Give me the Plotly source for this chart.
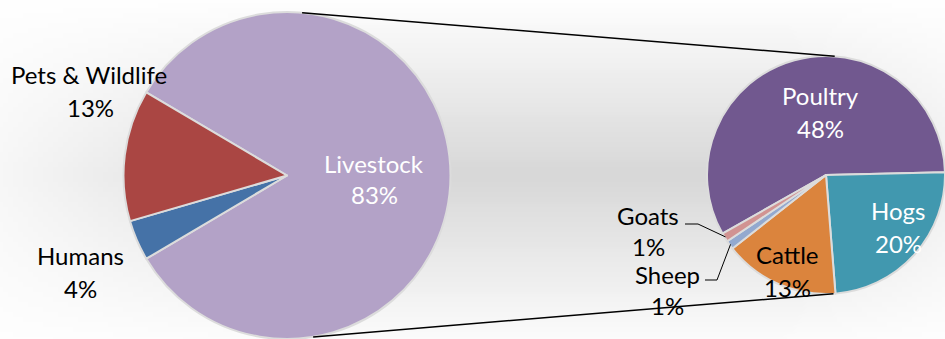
import base64
import struct
import zlib
import math
import numpy as np
import plotly.graph_objects as go

W, H = 945, 339

# ---------------- data ----------------
main_labels = ["Livestock", "Humans", "Pets & Wildlife"]
main_values = [83, 4, 13]
main_colors = ["#B3A2C7", "#4572A7", "#AA4643"]

sub_labels = ["Poultry", "Hogs", "Cattle", "Sheep", "Goats"]
sub_values = [48, 20, 13, 1, 1]
sub_colors = ["#71588F", "#4198AF", "#DB843D", "#93A9CF", "#D19392"]

# ---------------- styling / geometry (pixels) ----------------
FONT = "Lato"
FS = 24
L_CX, L_CY, L_R = 287.0, 175.5, 163.5
R_CX, R_CY, R_R = 826.0, 175.0, 119.0
L_ROT, R_ROT = -59.4, -119.5

label_pos = {
    "Livestock": ((374, 163.5), (374, 194.5), "white"),
    "Pets & Wildlife": ((89, 74.5), (90, 107.5), "black"),
    "Humans": ((80, 255.5), (80, 288.5), "black"),
    "Poultry": ((820, 95), (820, 129), "white"),
    "Hogs": ((898, 210.5), (898, 243.5), "white"),
    "Cattle": ((787, 255), (787, 287.5), "black"),
    "Goats": ((648, 215.5), (648, 246.5), "black"),
    "Sheep": ((667, 274), (667, 305), "black"),
}
leader_start = {"Goats": [(685, 224), (698, 224)], "Sheep": [(705, 280), (717, 280)]}


def px(x):
    return x / W


def py(y):
    return 1 - y / H


def png_data_uri(arr):
    h, w, _ = arr.shape
    raw = b"".join(b"\x00" + arr[i].astype(np.uint8).tobytes() for i in range(h))

    def chunk(tag, data):
        c = struct.pack(">I", len(data)) + tag + data
        return c + struct.pack(">I", zlib.crc32(tag + data) & 0xFFFFFFFF)

    png = b"\x89PNG\r\n\x1a\n"
    png += chunk(b"IHDR", struct.pack(">IIBBBBB", w, h, 8, 2, 0, 0, 0))
    png += chunk(b"IDAT", zlib.compress(raw, 9))
    png += chunk(b"IEND", b"")
    return "data:image/png;base64," + base64.b64encode(png).decode()


# background gradient (white edges, grey centre band)
gw, gh = 189, 68
xs = (np.arange(gw) + 0.5) / gw * W
ys = (np.arange(gh) + 0.5) / gh * H
fy = np.clip(1 - np.abs(ys - 175) / 175, 0, 1)
fx_left = 0.2 + 0.8 * np.clip(xs / 320, 0, 1)
fx_right = 0.4 + 0.6 * np.clip((W - xs) / 160, 0, 1)
fx = np.minimum(fx_left, fx_right)
dark = 39 * np.outer(fy, fx)
val = 255 - dark
bg = np.repeat(val[:, :, None], 3, axis=2)
bg_uri = png_data_uri(bg)

fig = go.Figure()

fig.add_trace(go.Pie(
    labels=main_labels, values=main_values, sort=False, direction="clockwise",
    rotation=L_ROT, marker=dict(colors=main_colors, line=dict(color="#dcdcdc", width=2)),
    textinfo="none", hoverinfo="label+value", showlegend=False,
    domain=dict(x=[px(L_CX - L_R), px(L_CX + L_R)], y=[py(L_CY + L_R), py(L_CY - L_R)]),
))

fig.add_trace(go.Pie(
    labels=sub_labels, values=sub_values, sort=False, direction="clockwise",
    rotation=R_ROT, marker=dict(colors=sub_colors, line=dict(color="#dcdcdc", width=2)),
    textinfo="none", hoverinfo="label+value", showlegend=False,
    domain=dict(x=[px(R_CX - R_R), 1.0], y=[py(R_CY + R_R), py(R_CY - R_R)]),
))

annotations = []
for lab, v in list(zip(main_labels, main_values)) + list(zip(sub_labels, sub_values)):
    (nx, ny), (vx, vy), col = label_pos[lab]
    for text, (x, y) in ((lab, (nx, ny)), (f"{v}%", (vx, vy))):
        annotations.append(dict(
            x=px(x), y=py(y), xref="paper", yref="paper", text=text, showarrow=False,
            xanchor="center", yanchor="middle", font=dict(family=FONT, size=FS, color=col),
        ))


def on_circle(cx, cy, r, ang):
    a = math.radians(ang)
    return cx + r * math.sin(a), cy - r * math.cos(a)


shapes = []
# connector lines between the pies
for la, ra in ((5.3, 4.2), (170.8, 176.4)):
    x0, y0 = on_circle(L_CX, L_CY, L_R, la)
    x1, y1 = on_circle(R_CX, R_CY, R_R, ra)
    shapes.append(dict(type="line", xref="paper", yref="paper", x0=px(x0), y0=py(y0),
                       x1=px(x1), y1=py(y1), line=dict(color="black", width=1.5)))

# leader lines for the small slices
total = sum(sub_values)
cum = R_ROT
mids = {}
for lab, v in zip(sub_labels, sub_values):
    span = v / total * 360
    mids[lab] = cum + span / 2
    cum += span
for lab, pts in leader_start.items():
    ex, ey = on_circle(R_CX, R_CY, R_R - 1, mids[lab])
    allp = pts + [(ex, ey)]
    path = "M " + " L ".join(f"{px(x):.5f},{py(y):.5f}" for x, y in allp)
    shapes.append(dict(type="path", xref="paper", yref="paper", path=path,
                       line=dict(color="black", width=1)))

fig.update_layout(
    width=W, height=H, margin=dict(l=0, r=0, t=0, b=0),
    paper_bgcolor="white", plot_bgcolor="white",
    annotations=annotations, shapes=shapes,
    images=[dict(source=bg_uri, xref="paper", yref="paper", x=0, y=1, sizex=1, sizey=1,
                 xanchor="left", yanchor="top", sizing="stretch", layer="below")],
)

fig.write_html("out.html")
